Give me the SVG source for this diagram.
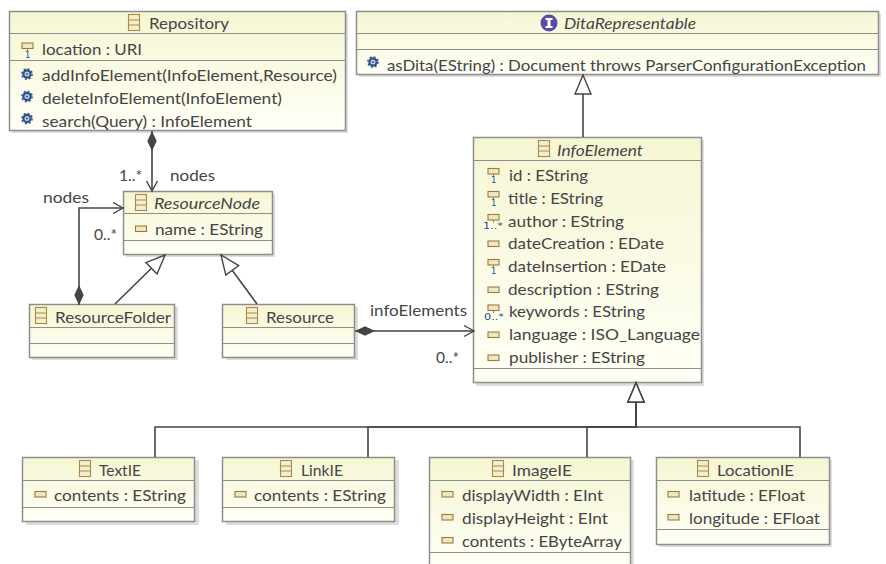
<svg xmlns="http://www.w3.org/2000/svg" width="886" height="564" viewBox="0 0 886 564">
<style>
text{font-family:"Lato","Open Sans","DejaVu Sans",sans-serif;font-size:16px;fill:#454545}
.i{font-style:italic}
.m{font-size:8.5px;fill:#1f4f94;font-family:"DejaVu Sans",sans-serif}
.box{fill:url(#nodeFill);stroke:#8e8e8e;stroke-width:1.5}
.shadow{fill:#dddddd}
.div{stroke:#8e8e8e;stroke-width:1.2;fill:none}
.con{fill:none;stroke:#454545;stroke-width:1.6}
.comp{marker-start:url(#diamond)}
.nav{marker-end:url(#open)}
.gen{marker-end:url(#tri)}
</style>
<defs>
<linearGradient id="nodeFill" x1="0" y1="0" x2="0" y2="1"><stop offset="0" stop-color="#f6f6d4"/><stop offset="1" stop-color="#fffff6"/></linearGradient>
<marker id="diamond" markerUnits="userSpaceOnUse" markerWidth="22" markerHeight="12" refX="0" refY="6" orient="auto"><path d="M0,6 L10,1.3 L20,6 L10,10.7 Z" fill="#454545"/></marker>
<marker id="open" markerUnits="userSpaceOnUse" markerWidth="12" markerHeight="14" refX="10" refY="7" orient="auto"><path d="M0,1.5 L10,7 L0,12.500" fill="none" stroke="#454545" stroke-width="1.4"/></marker>
<marker id="tri" markerUnits="userSpaceOnUse" markerWidth="22" markerHeight="20" refX="20" refY="10" orient="auto"><path d="M1,2 L20,10 L1,18 Z" fill="#ffffff" stroke="#454545" stroke-width="1.4"/></marker>
<g id="cls"><rect x="0.5" y="0.5" width="11" height="16" fill="#f5eecb" stroke="#a98a4b" stroke-width="1.1"/><path d="M0.5,6 H11.5 M0.5,11 H11.5" stroke="#a98a4b" stroke-width="1.1"/></g>
<rect id="att" x="0" y="0" width="11" height="5.500" fill="#efe7bf" stroke="#9c7c3c" stroke-width="1.1"/>
<g id="att1"><use href="#att"/><path d="M5.500,5.500 V8" stroke="#9c7c3c"/></g>
<g id="op"><circle cx="0" cy="0" r="4.700" fill="#2f4f86"/><circle cx="0" cy="0" r="5.200" fill="none" stroke="#2f4f86" stroke-width="1.4" stroke-dasharray="2 2.080"/><circle cx="0" cy="0" r="2.500" fill="#c4d1e8"/><circle cx="0" cy="0" r="1" fill="#2f4f86"/></g>
</defs>
<rect width="886" height="564" fill="#ffffff"/>

<g id="Repository">
<rect class="shadow" x="12" y="14" width="336" height="119"/>
<rect class="box" x="9.500" y="11.500" width="336" height="119"/>
<path class="div" d="M9.500,33.500 H345.500 M9.500,60.500 H345.500"/>
<use href="#cls" x="128" y="14"/>
<text x="149" y="29" textLength="80" lengthAdjust="spacingAndGlyphs">Repository</text>
<use href="#att1" x="22" y="43"/><text class="m" x="25" y="57.500">1</text>
<text x="42" y="55" textLength="100" lengthAdjust="spacingAndGlyphs">location : URI</text>
<use href="#op" x="27" y="74"/><text x="42" y="81" textLength="295" lengthAdjust="spacingAndGlyphs">addInfoElement(InfoElement,Resource)</text>
<use href="#op" x="27" y="96.500"/><text x="42" y="104" textLength="240" lengthAdjust="spacingAndGlyphs">deleteInfoElement(InfoElement)</text>
<use href="#op" x="27" y="118.500"/><text x="42" y="127" textLength="210" lengthAdjust="spacingAndGlyphs">search(Query) : InfoElement</text>
</g>

<g id="DitaRepresentable">
<rect class="shadow" x="359" y="14" width="522" height="63"/>
<rect class="box" x="356.500" y="11.500" width="522" height="63"/>
<path class="div" d="M356.500,33.500 H878.500 M356.500,49.500 H878.500"/>
<circle cx="549" cy="23" r="8.500" fill="#5b4aa8"/><path d="M545.500,18 H552.500 V20 H550.500 V26 H552.500 V28 H545.500 V26 H547.500 V20 H545.500 Z" fill="#ffffff"/>
<text class="i" x="564" y="29" textLength="132" lengthAdjust="spacingAndGlyphs">DitaRepresentable</text>
<use href="#op" x="373" y="62"/><text x="387" y="71" textLength="479" lengthAdjust="spacingAndGlyphs">asDita(EString) : Document throws ParserConfigurationException</text>
</g>

<g id="InfoElement">
<rect class="shadow" x="476" y="140" width="228" height="246"/>
<rect class="box" x="473.500" y="137.500" width="228" height="245"/>
<path class="div" d="M473.500,160.500 H701.500 M473.500,368.500 H701.500"/>
<use href="#cls" x="538" y="140"/>
<text class="i" x="557" y="156" textLength="86" lengthAdjust="spacingAndGlyphs">InfoElement</text>
<use href="#att1" x="488" y="168.500"/><text class="m" x="491" y="183">1</text><text x="509" y="181" textLength="79" lengthAdjust="spacingAndGlyphs">id : EString</text>
<use href="#att1" x="488" y="191.500"/><text class="m" x="491" y="206">1</text><text x="508" y="204" textLength="95" lengthAdjust="spacingAndGlyphs">title : EString</text>
<use href="#att1" x="488" y="214.500"/><text class="m" x="483" y="229" textLength="20" lengthAdjust="spacingAndGlyphs">1..*</text><text x="508" y="227" textLength="116" lengthAdjust="spacingAndGlyphs">author : EString</text>
<use href="#att" x="488" y="241"/><text x="508" y="249" textLength="156" lengthAdjust="spacingAndGlyphs">dateCreation : EDate</text>
<use href="#att1" x="488" y="259.500"/><text class="m" x="491" y="274">1</text><text x="508" y="272" textLength="158" lengthAdjust="spacingAndGlyphs">dateInsertion : EDate</text>
<use href="#att" x="488" y="287"/><text x="508" y="295" textLength="151" lengthAdjust="spacingAndGlyphs">description : EString</text>
<use href="#att1" x="488" y="305"/><text class="m" x="484" y="319.500" textLength="20" lengthAdjust="spacingAndGlyphs">0..*</text><text x="509" y="317" textLength="136" lengthAdjust="spacingAndGlyphs">keywords : EString</text>
<use href="#att" x="488" y="332"/><text x="509" y="340" textLength="191" lengthAdjust="spacingAndGlyphs">language : ISO_Language</text>
<use href="#att" x="488" y="355"/><text x="509" y="363" textLength="136" lengthAdjust="spacingAndGlyphs">publisher : EString</text>
</g>

<g id="ResourceNode">
<rect class="shadow" x="126" y="194" width="149" height="63"/>
<rect class="box" x="123.500" y="191.500" width="149" height="63"/>
<path class="div" d="M123.500,213.500 H272.500 M123.500,240.500 H272.500"/>
<use href="#cls" x="135" y="194"/>
<text class="i" x="154" y="209" textLength="106" lengthAdjust="spacingAndGlyphs">ResourceNode</text>
<use href="#att" x="135.500" y="226"/><text x="155" y="235" textLength="108" lengthAdjust="spacingAndGlyphs">name : EString</text>
</g>

<g id="ResourceFolder">
<rect class="shadow" x="32" y="307" width="146" height="53"/>
<rect class="box" x="29.500" y="304.500" width="145" height="53"/>
<path class="div" d="M29.500,327.500 H174.500 M29.500,343.500 H174.500"/>
<use href="#cls" x="35" y="307"/>
<text x="55" y="323" textLength="116" lengthAdjust="spacingAndGlyphs">ResourceFolder</text>
</g>

<g id="Resource">
<rect class="shadow" x="226" y="307" width="132" height="53"/>
<rect class="box" x="222.500" y="304.500" width="132" height="53"/>
<path class="div" d="M222.500,327.500 H354.500 M222.500,343.500 H354.500"/>
<use href="#cls" x="246" y="307"/>
<text x="266" y="323" textLength="68" lengthAdjust="spacingAndGlyphs">Resource</text>
</g>

<g id="TextIE">
<rect class="shadow" x="26" y="460" width="173" height="65"/>
<rect class="box" x="22.500" y="457.500" width="172" height="64"/>
<path class="div" d="M22.500,480.500 H194.500 M22.500,507.500 H194.500"/>
<use href="#cls" x="79" y="460"/>
<text x="99" y="476" textLength="42" lengthAdjust="spacingAndGlyphs">TextIE</text>
<use href="#att" x="35" y="491.500"/><text x="54" y="501" textLength="132" lengthAdjust="spacingAndGlyphs">contents : EString</text>
</g>

<g id="LinkIE">
<rect class="shadow" x="226" y="460" width="173" height="65"/>
<rect class="box" x="222.500" y="457.500" width="172" height="64"/>
<path class="div" d="M222.500,480.500 H394.500 M222.500,507.500 H394.500"/>
<use href="#cls" x="280" y="460"/>
<text x="301" y="476" textLength="42" lengthAdjust="spacingAndGlyphs">LinkIE</text>
<use href="#att" x="235" y="491.500"/><text x="254" y="501" textLength="132" lengthAdjust="spacingAndGlyphs">contents : EString</text>
</g>

<g id="ImageIE">
<rect class="shadow" x="432" y="460" width="202" height="110"/>
<rect class="box" x="429.500" y="457.500" width="201" height="108"/>
<path class="div" d="M429.500,480.500 H630.500 M429.500,552.500 H630.500"/>
<use href="#cls" x="492" y="460"/>
<text x="512" y="476" textLength="60" lengthAdjust="spacingAndGlyphs">ImageIE</text>
<use href="#att" x="442" y="491.500"/><text x="462" y="501" textLength="141" lengthAdjust="spacingAndGlyphs">displayWidth : EInt</text>
<use href="#att" x="442" y="514.500"/><text x="462" y="524" textLength="146" lengthAdjust="spacingAndGlyphs">displayHeight : EInt</text>
<use href="#att" x="442" y="537.500"/><text x="462" y="547" textLength="160" lengthAdjust="spacingAndGlyphs">contents : EByteArray</text>
</g>

<g id="LocationIE">
<rect class="shadow" x="659" y="460" width="173" height="87"/>
<rect class="box" x="656.500" y="457.500" width="173" height="87"/>
<path class="div" d="M656.500,480.500 H829.500 M656.500,529.500 H829.500"/>
<use href="#cls" x="697" y="460"/>
<text x="717" y="476" textLength="77" lengthAdjust="spacingAndGlyphs">LocationIE</text>
<use href="#att" x="668" y="491.500"/><text x="689" y="501" textLength="116" lengthAdjust="spacingAndGlyphs">latitude : EFloat</text>
<use href="#att" x="668" y="514.500"/><text x="689" y="524" textLength="131" lengthAdjust="spacingAndGlyphs">longitude : EFloat</text>
</g>

<g id="connectors">
<path class="con comp nav" d="M152,131 V191"/>
<path class="con comp nav" d="M79,305 V208 H123"/>
<path class="con comp nav" d="M355,331 H474"/>
<path class="con gen" d="M115,304 L165,255"/>
<path class="con gen" d="M257,304 L221,255"/>
<path class="con gen" d="M583,137 V75"/>
<path class="con gen" d="M155,457 V427 H636 V383"/>
<path class="con gen" d="M368,457 V427 H636 V383"/>
<path class="con gen" d="M587,457 V427 H636 V383"/>
<path class="con gen" d="M800,457 V427 H636 V383"/>
<text x="119" y="181" textLength="23" lengthAdjust="spacingAndGlyphs">1..*</text>
<text x="170" y="181" textLength="45" lengthAdjust="spacingAndGlyphs">nodes</text>
<text x="43" y="203" textLength="46" lengthAdjust="spacingAndGlyphs">nodes</text>
<text x="94" y="240" textLength="23" lengthAdjust="spacingAndGlyphs">0..*</text>
<text x="370" y="316" textLength="97" lengthAdjust="spacingAndGlyphs">infoElements</text>
<text x="436" y="363" textLength="23" lengthAdjust="spacingAndGlyphs">0..*</text>
</g>
</svg>
